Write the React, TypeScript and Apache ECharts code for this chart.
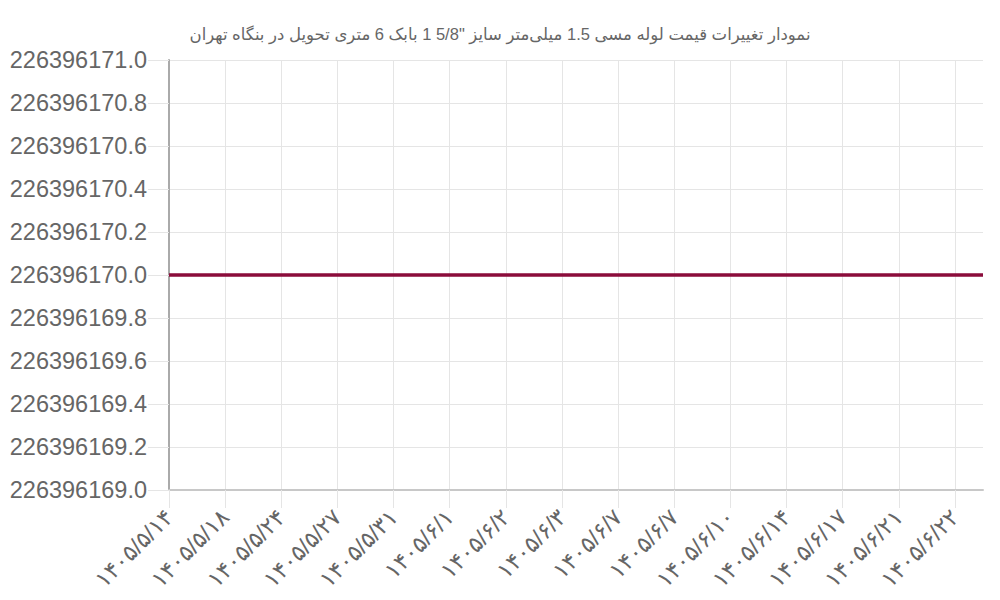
import React, { useEffect, useRef } from 'react';
import * as echarts from 'echarts';
import type { EChartsOption } from 'echarts';

const CHART_TITLE =
  'نمودار تغییرات قیمت لوله مسی 1.5 میلی‌متر سایز "5/8 1 بابک 6 متری تحویل در بنگاه تهران';

// every second date is printed on the axis, the others are skipped
const DATES = [
  '۱۴۰۵/۵/۱۴', '۱۴۰۵/۵/۱۷', '۱۴۰۵/۵/۱۸', '۱۴۰۵/۵/۲۰', '۱۴۰۵/۵/۲۴',
  '۱۴۰۵/۵/۲۵', '۱۴۰۵/۵/۲۷', '۱۴۰۵/۵/۲۸', '۱۴۰۵/۵/۳۱', '۱۴۰۵/۵/۳۱',
  '۱۴۰۵/۶/۱', '۱۴۰۵/۶/۱', '۱۴۰۵/۶/۲', '۱۴۰۵/۶/۳', '۱۴۰۵/۶/۳',
  '۱۴۰۵/۶/۴', '۱۴۰۵/۶/۷', '۱۴۰۵/۶/۷', '۱۴۰۵/۶/۷', '۱۴۰۵/۶/۸',
  '۱۴۰۵/۶/۱۰', '۱۴۰۵/۶/۱۱', '۱۴۰۵/۶/۱۴', '۱۴۰۵/۶/۱۵', '۱۴۰۵/۶/۱۷',
  '۱۴۰۵/۶/۲۰', '۱۴۰۵/۶/۲۱', '۱۴۰۵/۶/۲۱', '۱۴۰۵/۶/۲۲', '۱۴۰۵/۶/۲۳',
];

const PRICES = [
  226396170, 226396170, 226396170, 226396170, 226396170,
  226396170, 226396170, 226396170, 226396170, 226396170,
  226396170, 226396170, 226396170, 226396170, 226396170,
  226396170, 226396170, 226396170, 226396170, 226396170,
  226396170, 226396170, 226396170, 226396170, 226396170,
  226396170, 226396170, 226396170, 226396170, 226396170,
];

const Y_MIN = 226396169;
const Y_MAX = 226396171;
const Y_STEP = 0.2;

const FONT = '"Liberation Sans", Arial, "DejaVu Sans", sans-serif';
const GRID_COLOR = '#e5e5e5';
const TEXT_COLOR = '#666';
const LINE_COLOR = '#8b0c3b';

export default function App() {
  const chartRef = useRef<HTMLDivElement>(null);

  useEffect(() => {
    if (!chartRef.current) return;
    const chart = echarts.init(chartRef.current, undefined, { renderer: 'svg' });

    const option: EChartsOption = {
      animation: false,
      backgroundColor: '#fff',
      title: {
        text: CHART_TITLE,
        left: 'center',
        top: 20,
        textStyle: {
          color: TEXT_COLOR,
          fontSize: 16.5,
          fontWeight: 'normal',
          fontFamily: FONT,
        },
      },
      grid: {
        left: 169,
        right: 17,
        top: 60,
        bottom: 110,
        containLabel: false,
      },
      xAxis: {
        type: 'category',
        data: DATES,
        boundaryGap: false,
        axisLine: { show: true, lineStyle: { color: '#c8c8c8', width: 2 } },
        axisTick: {
          show: true,
          interval: 1,
          length: 18,
          lineStyle: { color: GRID_COLOR },
        },
        axisLabel: {
          interval: 1,
          rotate: 45,
          margin: 23,
          color: TEXT_COLOR,
          fontSize: 23,
          fontFamily: FONT,
        },
        splitLine: {
          show: true,
          interval: 1,
          lineStyle: { color: GRID_COLOR, width: 1 },
        },
      },
      yAxis: {
        type: 'value',
        min: Y_MIN,
        max: Y_MAX,
        interval: Y_STEP,
        axisLine: { show: true, lineStyle: { color: '#aaa', width: 2 } },
        axisTick: { show: true, length: 21, lineStyle: { color: GRID_COLOR } },
        axisLabel: {
          margin: 22,
          color: TEXT_COLOR,
          fontSize: 23.5,
          fontFamily: FONT,
          formatter: (v: number) => v.toFixed(1),
        },
        splitLine: { show: true, lineStyle: { color: GRID_COLOR, width: 1 } },
      },
      series: [
        {
          type: 'line',
          data: PRICES,
          showSymbol: false,
          lineStyle: { color: LINE_COLOR, width: 3.5 },
          itemStyle: { color: LINE_COLOR },
        },
      ],
    };

    chart.setOption(option);

    return () => {
      chart.dispose();
    };
  }, []);

  return (
    <div
      ref={chartRef}
      style={{ position: 'fixed', left: 0, top: 0, width: 1000, height: 600 }}
    />
  );
}
